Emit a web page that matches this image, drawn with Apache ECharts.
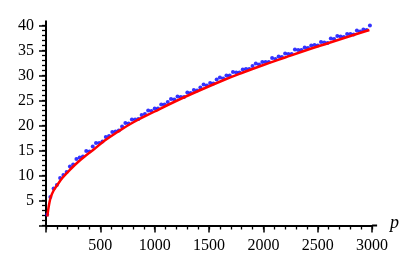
<!DOCTYPE html>
<html>
<head>
<meta charset="utf-8">
<script src="https://cdn.jsdelivr.net/npm/echarts@6/dist/echarts.min.js"></script>
<style>
html,body{margin:0;padding:0;background:#fff;}
#chart{width:415px;height:270px;}
</style>
</head>
<body>
<div id="chart"></div>
<script>
// Blue observed points
var pointX = [10,40,70,100,130,160,190,220,250,280,310,340,370,400,430,460,490,520,550,580,
  610,640,670,700,730,760,790,820,850,880,910,940,970,1000,1030,1060,1090,1120,1150,1180,
  1210,1240,1270,1300,1330,1360,1390,1420,1450,1480,1510,1540,1570,1600,1630,1660,1690,1720,1750,1780,
  1810,1840,1870,1900,1930,1960,1990,2020,2050,2080,2110,2140,2170,2200,2230,2260,2290,2320,2350,2380,
  2410,2440,2470,2500,2530,2560,2590,2620,2650,2680,2710,2740,2770,2800,2830,2860,2890,2920,2950,2980];
var pointY = [2.2,5.7,7.4,8.1,9.5,10.1,10.7,11.8,12.2,13.3,13.6,13.8,14.9,14.8,15.8,16.5,16.5,16.8,17.7,17.9,
  18.7,18.8,19.0,19.8,20.5,20.4,21.2,21.2,21.3,22.1,22.3,23.0,22.9,23.4,23.4,24.2,24.2,24.7,25.3,25.2,
  25.8,25.7,25.7,26.6,26.5,27.1,27.0,27.6,28.2,28.0,28.5,28.4,29.2,29.6,29.4,30.0,30.0,30.7,30.6,30.6,
  31.2,31.3,31.3,31.9,32.4,32.2,32.7,32.7,32.7,33.5,33.3,33.8,33.7,34.4,34.3,34.3,35.2,35.1,35.1,35.6,
  35.5,36.0,36.1,36.0,36.7,36.6,36.5,37.4,37.3,37.9,37.8,37.7,38.3,38.3,38.2,39.0,38.8,39.2,39.1,40.0];
// Red fitted curve
var curveX = [12,25,43,70,104,150,227,300,350,450,534,650,800,1000,1187,1400,1647,1800,2000,2199,2400,2600,2843,2975];
var curveY = [1.8,3.8,5.6,7.0,8.1,9.5,11.3,12.8,13.7,15.4,16.9,18.6,20.6,22.8,24.8,26.9,29.2,30.5,32.1,33.6,35.1,36.5,38.2,39.1];
// Major tick positions
var xMajor = [0,500,1000,1500,2000,2500,3000];
var yMajor = [0,5,10,15,20,25,30,35,40];
var xName = 'p';

var pts = pointX.map(function(x,i){return [x, pointY[i]];});
var crv = curveX.map(function(x,i){return [x, curveY[i]];});

var FF = 'Liberation Serif';
function xLab(v){ return (v !== 0 && v % 500 === 0) ? String(v) : ''; }
function yLab(v){ return (v !== 0 && v % 5 === 0) ? String(v) : ''; }
function none(){ return ''; }
var G = {left:46, right:42.9, top:25.5, bottom:44.5, containLabel:false};

var chart = echarts.init(document.getElementById('chart'), null, {renderer:'canvas'});
chart.setOption({
  animation:false,
  backgroundColor:'#fff',
  textStyle:{fontFamily:FF},
  grid:[G, Object.assign({}, G)],
  xAxis:[
    {type:'value', gridIndex:0, min:0, max:3000, interval:100,
     name:xName, nameLocation:'end', nameGap:18,
     nameTextStyle:{fontFamily:FF, fontStyle:'italic', fontSize:18, color:'#000', verticalAlign:'bottom', lineHeight:5},
     axisLine:{show:true, onZero:false, symbol:['none','rect'], symbolSize:[2,5], symbolOffset:[0,2.5], lineStyle:{color:'#000', width:2}},
     axisTick:{show:true, length:4, lineStyle:{color:'#000', width:1.3}},
     axisLabel:{show:true, margin:12, interval:0, hideOverlap:false, formatter:xLab, fontFamily:FF, fontSize:16, color:'#000'},
     splitLine:{show:false}},
    {type:'value', gridIndex:1, min:0, max:3000, interval:500,
     axisLine:{show:false, onZero:false},
     axisTick:{show:true, length:7, lineStyle:{color:'#000', width:1.5}},
     axisLabel:{show:true, formatter:none},
     splitLine:{show:false}}
  ],
  yAxis:[
    {type:'value', gridIndex:0, min:0, max:40, interval:1,
     axisLine:{show:true, onZero:false, symbol:['none','rect'], symbolSize:[2,5], symbolOffset:[0,2.5], lineStyle:{color:'#000', width:2}},
     axisTick:{show:true, length:4, lineStyle:{color:'#000', width:1.3}},
     axisLabel:{show:true, margin:12, interval:0, hideOverlap:false, formatter:yLab, fontFamily:FF, fontSize:16, color:'#000'},
     splitLine:{show:false}},
    {type:'value', gridIndex:1, min:0, max:40, interval:5,
     axisLine:{show:false, onZero:false},
     axisTick:{show:true, length:7, lineStyle:{color:'#000', width:1.5}},
     axisLabel:{show:true, formatter:none},
     splitLine:{show:false}}
  ],
  series:[
    {type:'scatter', xAxisIndex:0, yAxisIndex:0, data:pts, symbol:'circle', symbolSize:4,
     itemStyle:{color:'#0000ff'}},
    {type:'line', xAxisIndex:0, yAxisIndex:0, data:crv, smooth:0.4, showSymbol:false, symbol:'none',
     lineStyle:{color:'#ff0000', width:2.5}},
    {type:'scatter', xAxisIndex:1, yAxisIndex:1, data:[], silent:true}
  ]
});
</script>
</body>
</html>
